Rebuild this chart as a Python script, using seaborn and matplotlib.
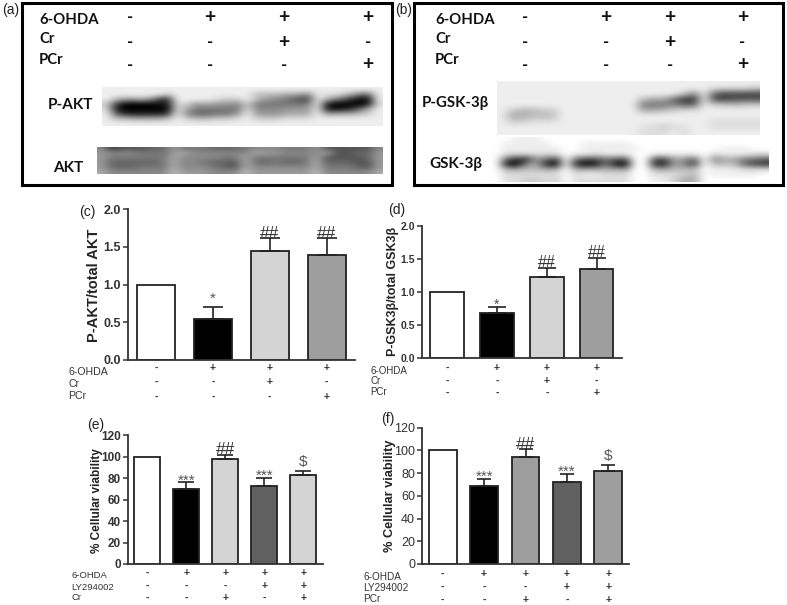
"""Western blots (a, b) and densitometry / viability bars (c-f)."""
import matplotlib
matplotlib.use("Agg")
import matplotlib.pyplot as plt
import numpy as np
import seaborn as sns
from matplotlib.patches import Rectangle
from matplotlib.transforms import blended_transform_factory

W, H = 787, 605

# bar panels
GROUPS_4 = ["ctrl", "6-OHDA", "6-OHDA+Cr", "6-OHDA+PCr"]
GROUPS_5 = ["ctrl", "6-OHDA", "6-OHDA+drug", "6-OHDA+LY", "6-OHDA+LY+drug"]

C_VALUES = [1.0, 0.54, 1.45, 1.39]
C_TOPS = [None, 0.70, 1.62, 1.62]
C_MARKS = ["", "*", "##", "##"]

D_VALUES = [1.0, 0.68, 1.22, 1.35]
D_TOPS = [None, 0.77, 1.37, 1.52]
D_MARKS = ["", "*", "##", "##"]

E_VALUES = [100, 70, 98, 73, 83]
E_TOPS = [None, 76, 102, 80, 87]
E_MARKS = ["", "***", "##", "***", "$"]

F_VALUES = [100, 69, 94, 72, 82]
F_TOPS = [None, 75, 101, 79, 87]
F_MARKS = ["", "***", "##", "***", "$"]

C_COLORS = ["#ffffff", "#000000", "#d4d4d4", "#9e9e9e"]
E_COLORS = ["#ffffff", "#000000", "#d4d4d4", "#606060", "#d4d4d4"]
F_COLORS = ["#ffffff", "#000000", "#9e9e9e", "#606060", "#9e9e9e"]

TREAT_4 = [["-", "+", "+", "+"], ["-", "-", "+", "-"], ["-", "-", "-", "+"]]
TREAT_5 = [["-", "+", "+", "+", "+"], ["-", "-", "-", "+", "+"], ["-", "-", "+", "-", "+"]]

# blot scans, coarse grey levels (hex digit, 0 black, f white)
BLOT_PAKT = [
    "eeeeeeeeeeeeeeeeeeeeeeeeeeee",
    "eeeeeeceeeeeeeebbbaa8eddb86e",
    "eb9aa52eeeedcceb98754ea7410e",
    "c300011dc9a998c777777e10001d",
    "d100000da77777d888999e1125ae",
    "e522223e866779e999aaae9aabce",
    "ebbaaabecbbccdecccdddeeeeeee",
    "eeeeeeeeeeeeeeeeeeeeeeeeeeee",
]
BLOT_AKT = [
    "8355566977766678887779555558",
    "98887779a888888a998888a55669",
    "9777777a888877a777777a555569",
    "9666667a887665a767667a666559",
    "9666777a888765a888888a777659",
    "a888888b999888b999999b88888a",
]
BLOT_PGSK = [
    "eeeeeeeeeeeeeeeeeeeeeeeeee",
    "eeeeeeeeeeeeeeeeeeeeeddddc",
    "eeeeeeeeeeeeeeeeeec8e64444",
    "eeeeeeeeeeeeeebaa633e44555",
    "eeeeeeeeeeeeee777866eccbcc",
    "ecbbcceeeeeeeeaabcddeeeeee",
    "eaabbbeeeeeeeeeeeeeeeeeeee",
    "eccdddeeeeeeeeeeeeeeeddddd",
    "eeeeeeeeeeeeeeddcddeeddddd",
    "eeeeeeeeeeeeeedddedeeeeeee",
]
BLOT_GSK = [
    "ffeeefffffffffffffffffffffff",
    "feeeeefffeeeeeffffffffffffff",
    "feeeeeeffeeeeeeffffffffeeeff",
    "fddddddfeedeeeffeeeeefdeeedd",
    "f633974f755765ff55a96f8aa876",
    "f108a20f201710ff22a74fbbb643",
    "faabbaafaaaaa9ffaabbbfeeeddd",
    "fddddddfdeedddffdddcbfeeeeef",
    "fddccdcfddddddffeecaafffffff",
]

sns.set_theme(style="white")
plt.rcParams["font.family"] = ["Liberation Sans", "DejaVu Sans"]
fig = plt.figure(figsize=(W / 100, H / 100), dpi=100)


def fx(px):
    return px / W


def fy(px):
    return 1 - px / H


def label(px, py, s, **kw):
    kw.setdefault("ha", "left")
    kw.setdefault("va", "center")
    fig.text(fx(px), fy(py), s, **kw)


def blot(rows, left, right, top, bottom):
    ax = fig.add_axes([fx(left), fy(bottom), fx(right - left), (bottom - top) / H])
    grid = np.array([[int(c, 16) * 17 for c in r] for r in rows])
    ax.imshow(grid, cmap="gray", vmin=0, vmax=255, aspect="auto", interpolation="bicubic")
    ax.axis("off")


def blot_panel(left, right, lanes):
    fig.add_artist(Rectangle((fx(left), fy(185)), fx(right - left), 182 / H, fill=False,
                             edgecolor="black", linewidth=2.2))
    for s, py in zip(["6-OHDA", "Cr", "PCr"], [20, 39, 60]):
        label(lanes[0], py, s, family="Lato", weight="bold", fontsize=10.7, color="#111111")
    for row, py in zip(TREAT_4, [16, 40.5, 63]):
        for x, s in zip(lanes[1:], row):
            label(x, py, s, ha="center", va="center_baseline", family="Lato", weight="bold",
                  fontsize=14 if s == "+" else 12, color="#111111")


def bar_panel(groups, values, tops, marks, colors, treat, row_names, box, ymax, yticks, fmt,
              ylab, cap, sizes, row_y, name_x, name_y, mark_gap):
    left, right, top, bottom = box
    ax = fig.add_axes([fx(left), fy(bottom), fx(right - left), (bottom - top) / H])
    sns.barplot(x=groups, y=values, hue=groups, palette=colors, legend=False, width=0.67,
                edgecolor="#222222", linewidth=1.3, errorbar=None, ax=ax)
    for i, (v, t) in enumerate(zip(values, tops)):
        if t is not None:
            ax.errorbar(i, v, yerr=[[0], [t - v]], color="#222222", elinewidth=1.2,
                        capsize=cap, capthick=1.2)
        mk = marks[i]
        if mk:
            ax.annotate(mk.replace("$", r"\$"), (i, t), xytext=(0, mark_gap[mk]),
                        textcoords="offset points", ha="center", va="center",
                        color="#333333" if mk == "##" else "#555555",
                        fontsize=sizes["mark"] + (1.5 if mk == "##" else 0))
    ax.set_xlim(-0.5, len(groups) - 0.5)
    ax.set_ylim(0, ymax)
    ax.set_yticks(yticks)
    ax.set_yticklabels([fmt.format(t) for t in yticks], fontsize=sizes["tick"],
                       color="#333333", weight=sizes.get("tickweight", "normal"))
    ax.set_xticks([])
    ax.set_xlabel("")
    ax.tick_params(axis="y", left=True, length=3.5, width=1.1, pad=1.5, color="#333333")
    sns.despine(ax=ax)
    for side in ["left", "bottom"]:
        ax.spines[side].set_linewidth(1.3)
        ax.spines[side].set_color("#333333")
    ax.patch.set_alpha(0)

    trans = blended_transform_factory(ax.transData, fig.transFigure)
    for row, py in zip(treat, row_y):
        for i, s in enumerate(row):
            ax.text(i, fy(py), s, transform=trans, ha="center", va="center_baseline",
                    fontsize=7.5, weight="bold", color="#333333", clip_on=False)
    for s, py in zip(row_names, name_y):
        label(name_x, py, s, fontsize=sizes["row"], color="#333333")
    label(ylab[1], ylab[2], ylab[0], rotation=90, ha="center", weight="bold",
          fontsize=sizes["ylab"], color="#222222")


# (a)
blot_panel(21.5, 391.5, [39, 130.5, 210, 284, 368])
blot(BLOT_PAKT, 102, 383, 87, 126)
blot(BLOT_AKT, 97, 383, 146.5, 174)
label(48, 105, "P-AKT", family="Lato", weight="bold", fontsize=11, color="#111111")
label(53, 168, "AKT", family="Lato", weight="bold", fontsize=11, color="#111111")
label(2, 10, "(a)", fontsize=10, color="#222222")

# (b)
blot_panel(413.5, 783, [435, 525.5, 606, 670, 742.5])
blot(BLOT_PGSK, 496.5, 759, 80.5, 135)
blot(BLOT_GSK, 492, 769, 136.5, 182)
label(421.5, 103, "P-GSK-3β", family="Lato", weight="bold", fontsize=10.8, color="#111111")
label(429, 164, "GSK-3β", family="Lato", weight="bold", fontsize=11, color="#111111")
label(395, 10, "(b)", fontsize=10, color="#222222")

# (c)
bar_panel(GROUPS_4, C_VALUES, C_TOPS, C_MARKS, C_COLORS, TREAT_4, ["6-OHDA", "Cr", "PCr"],
          (127.7, 355, 209.3, 360), 2.0, [0, 0.5, 1.0, 1.5, 2.0], "{:.1f}",
          ("P-AKT/total AKT", 94, 285), 7.2,
          dict(tick=9, tickweight="bold", row=7.6, ylab=10.5, mark=11), [366.7, 381, 395.7],
          68.3, [372, 384, 396], {"*": 6, "##": 3})
label(79, 212, "(c)", fontsize=10, color="#222222")

# (d)
bar_panel(GROUPS_4, D_VALUES, D_TOPS, D_MARKS, C_COLORS, TREAT_4, ["6-OHDA", "Cr", "PCr"],
          (422, 621.7, 226, 358), 2.0, [0, 0.5, 1.0, 1.5, 2.0], "{:.1f}",
          ("P-GSK3β/total GSK3β", 392.7, 291), 6.4,
          dict(tick=7.5, tickweight="bold", row=7, ylab=9, mark=10), [366.7, 380, 392],
          370.7, [370.7, 381, 392], {"*": 2, "##": 3.5})
label(388, 210, "(d)", fontsize=10, color="#222222")

# (e)
bar_panel(GROUPS_5, E_VALUES, E_TOPS, E_MARKS, E_COLORS, TREAT_5, ["6-OHDA", "LY294002", "Cr"],
          (127.7, 322.7, 435.3, 564), 120, [0, 20, 40, 60, 80, 100, 120], "{:d}",
          ("% Cellular viability", 96.7, 501), 5.6,
          dict(tick=8.5, tickweight="bold", row=6.8, ylab=8.5, mark=11), [571.7, 585, 597],
          71, [576, 587, 597], {"***": 1.5, "##": 3.5, "$": 6})
label(87, 425, "(e)", fontsize=10, color="#222222", ha="left")

# (f)
bar_panel(GROUPS_5, F_VALUES, F_TOPS, F_MARKS, F_COLORS, TREAT_5, ["6-OHDA", "LY294002", "PCr"],
          (422, 629, 427.7, 564), 120, [0, 20, 40, 60, 80, 100, 120], "{:d}",
          ("% Cellular viability", 390, 496), 5,
          dict(tick=9, row=7.2, ylab=9.2, mark=11), [572.7, 586, 598.5],
          363, [577, 587.7, 598.5], {"***": 1.5, "##": 3.5, "$": 6.5})
label(381, 419, "(f)", fontsize=10, color="#222222")

fig.savefig("out.png", dpi=100, facecolor="white")
